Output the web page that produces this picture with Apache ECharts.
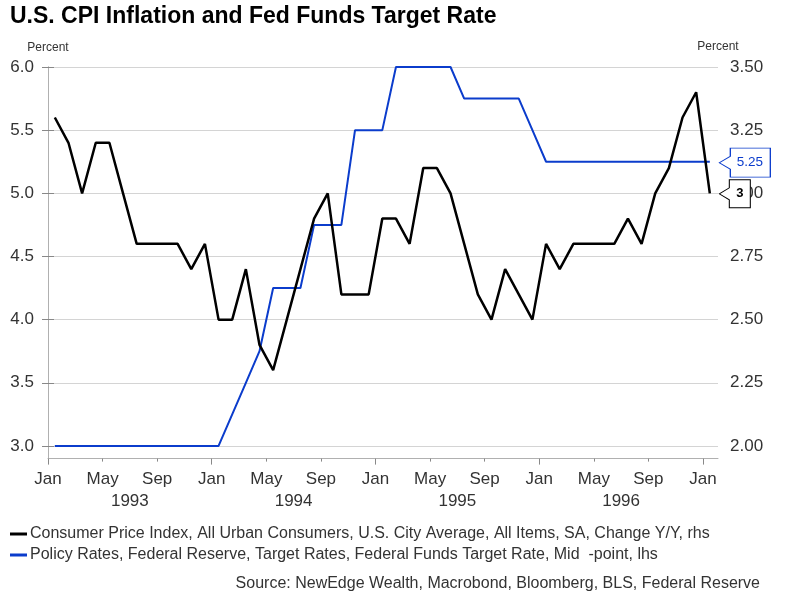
<!DOCTYPE html>
<html>
<head>
<meta charset="utf-8">
<script src="https://cdn.jsdelivr.net/npm/echarts@6/dist/echarts.min.js"></script>
<style>
html,body{margin:0;padding:0;background:#fff;}
#chart{width:786px;height:602px;}
</style>
</head>
<body>
<div id="chart"></div>
<script>
// Monthly data, Jan 1993 .. Jan 1997
const cpi = [3.3,3.2,3.0,3.2,3.2,3.0,2.8,2.8,2.8,2.8,2.7,2.8,
             2.5,2.5,2.7,2.4,2.3,2.5,2.7,2.9,3.0,2.6,2.6,2.6,
             2.9,2.9,2.8,3.1,3.1,3.0,2.8,2.6,2.5,2.7,2.6,2.5,
             2.8,2.7,2.8,2.8,2.8,2.8,2.9,2.8,3.0,3.1,3.3,3.4,
             3.0];
const fedFunds = [3,3,3,3,3,3,3,3,3,3,3,3,
                  3,3.25,3.5,3.75,4.25,4.25,4.25,4.75,4.75,4.75,5.5,5.5,
                  5.5,6,6,6,6,6,5.75,5.75,5.75,5.75,5.75,5.5,
                  5.25,5.25,5.25,5.25,5.25,5.25,5.25,5.25,5.25,5.25,5.25,5.25,
                  5.25];
const monthTickLabels = ['Jan','May','Sep','Jan','May','Sep','Jan','May','Sep','Jan','May','Sep','Jan'];
const yearLabels = ['1993','1994','1995','1996'];
const leftTicks = [3.0,3.5,4.0,4.5,5.0,5.5,6.0];
const rightTicks = [2.00,2.25,2.50,2.75,3.00,3.25,3.50];
const cpiName = 'Consumer Price Index, All Urban Consumers, U.S. City Average, All Items, SA, Change Y/Y, rhs';
const fedName = 'Policy Rates, Federal Reserve, Target Rates, Federal Funds Target Rate, Mid  -point, lhs';

const FONT = 'Liberation Sans, Arial, sans-serif';
const TXT = '#333';
const BLUE = '#0b3ccc';

const cpiData = cpi.map((v, i) => [i + 0.5, v]);
const fedData = fedFunds.map((v, i) => [i + 0.5, v]);
const monthTickVals = monthTickLabels.map((_, i) => i * 4);
const janVals = monthTickVals.filter(v => v % 12 === 0);
const otherVals = monthTickVals.filter(v => v % 12 !== 0);
const yearVals = yearLabels.map((_, i) => i * 12 + 6);
const lastIdx = cpi.length - 1;

const xBase = {type: 'value', min: 0, max: 49.1, position: 'bottom', splitLine: {show: false}};

const chart = echarts.init(document.getElementById('chart'));
chart.setOption({
  animation: false,
  textStyle: {fontFamily: FONT},
  title: [
    {text: 'U.S. CPI Inflation and Fed Funds Target Rate', left: 10, top: 5, padding: 0,
     textStyle: {fontFamily: FONT, fontSize: 23, fontWeight: 'bold', color: '#000'}},
    {text: 'Source: NewEdge Wealth, Macrobond, Bloomberg, BLS, Federal Reserve', right: 26, top: 576, padding: 0,
     textStyle: {fontFamily: FONT, fontSize: 16, fontWeight: 'normal', color: TXT}},
    {text: 'Percent', left: 718, textAlign: 'center', top: 41, padding: 0,
     textStyle: {fontFamily: FONT, fontSize: 12, fontWeight: 'normal', color: TXT}}
  ],
  legend: {
    orient: 'vertical', left: 10, top: 526, padding: 0, itemGap: 5,
    icon: 'rect', itemWidth: 17, itemHeight: 3,
    textStyle: {fontFamily: FONT, fontSize: 16, color: TXT, padding: [0,0,0,-2]},
    data: [cpiName, fedName]
  },
  grid: {left: 48, right: 68, top: 67, bottom: 143.4, containLabel: false},
  xAxis: [
    Object.assign({}, xBase, {
      axisLine: {show: true, lineStyle: {color: '#b0b0b0', width: 1}},
      axisTick: {show: true, customValues: janVals, length: 6, lineStyle: {color: '#888'}},
      axisLabel: {show: true, customValues: monthTickVals, margin: 12,
        formatter: v => monthTickLabels[Math.round(v / 4)],
        fontFamily: FONT, fontSize: 17, color: TXT}
    }),
    Object.assign({}, xBase, {
      axisLine: {show: false},
      axisTick: {show: true, customValues: otherVals, length: 3, lineStyle: {color: '#888'}},
      axisLabel: {show: false}
    }),
    Object.assign({}, xBase, {
      axisLine: {show: false},
      axisTick: {show: false},
      axisLabel: {show: true, customValues: yearVals, margin: 34,
        formatter: v => yearLabels[Math.round((v - 6) / 12)],
        fontFamily: FONT, fontSize: 17, color: TXT}
    })
  ],
  yAxis: [
    {type: 'value', position: 'left', min: 2.9, max: 6.0, splitNumber: 6,
     name: 'Percent', nameLocation: 'end', nameGap: 13,
     nameTextStyle: {fontFamily: FONT, fontSize: 12, color: TXT},
     axisLine: {show: true, lineStyle: {color: '#b0b0b0'}},
     axisTick: {show: true, customValues: leftTicks, length: 6, lineStyle: {color: '#888'}},
     axisLabel: {customValues: leftTicks, formatter: v => v.toFixed(1), margin: 14,
       fontFamily: FONT, fontSize: 17, color: TXT},
     splitLine: {show: true, lineStyle: {color: '#d4d4d4', width: 1}}
    },
    {type: 'value', position: 'right', min: 1.95, max: 3.5,
     axisLine: {show: true, lineStyle: {color: '#b0b0b0'}},
     axisTick: {show: true, customValues: rightTicks, length: 6, lineStyle: {color: '#888'}},
     axisLabel: {customValues: rightTicks, formatter: v => v.toFixed(2), margin: 12,
       fontFamily: FONT, fontSize: 17, color: TXT},
     splitLine: {show: false}
    }
  ],
  series: [
    {name: cpiName, type: 'line', xAxisIndex: 0, yAxisIndex: 1, data: cpiData,
     showSymbol: false, symbol: 'none', z: 4,
     itemStyle: {color: '#000'}, lineStyle: {color: '#000', width: 2.5},
     markPoint: {
       symbol: 'path://M0,14L10,8L10,0L31,0L31,28L10,28L10,20Z',
       symbolSize: [31, 28], symbolOffset: [25, 0.5],
       itemStyle: {color: '#fff', borderColor: '#000', borderWidth: 1},
       label: {show: true, position: 'inside', offset: [5, 0],
         formatter: p => String(p.value), fontFamily: FONT, fontSize: 13, fontWeight: 'bold', color: '#000'},
       data: [{coord: [lastIdx + 0.5, cpi[lastIdx]], value: cpi[lastIdx]}]
     }
    },
    {name: fedName, type: 'line', xAxisIndex: 0, yAxisIndex: 0, data: fedData,
     showSymbol: false, symbol: 'none', z: 3,
     itemStyle: {color: BLUE}, lineStyle: {color: BLUE, width: 2},
     markPoint: {
       symbol: 'path://M0,14.5L11,8L11,0L51,0L51,29L11,29L11,21Z',
       symbolSize: [51, 29], symbolOffset: [35, 1],
       itemStyle: {color: '#fff', borderColor: BLUE, borderWidth: 1},
       label: {show: true, position: 'inside', offset: [5, 0],
         formatter: p => p.value.toFixed(2), fontFamily: FONT, fontSize: 13.5, color: BLUE},
       data: [{coord: [lastIdx + 0.5, fedFunds[lastIdx]], value: fedFunds[lastIdx]}]
     }
    }
  ]
});
</script>
</body>
</html>
